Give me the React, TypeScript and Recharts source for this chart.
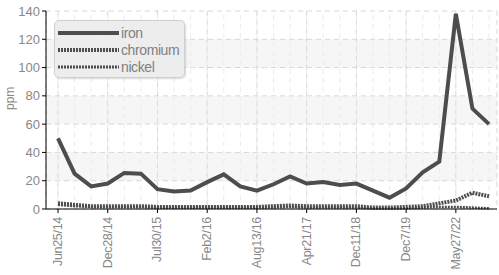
import React from 'react';
import { LineChart, Line, XAxis, YAxis, CartesianGrid, ReferenceLine } from 'recharts';

const dates = [
  'Jun25/14', 'Aug20/14', 'Oct22/14', 'Dec28/14', 'Feb25/15', 'Apr29/15',
  'Jul30/15', 'Sep30/15', 'Dec1/15', 'Feb2/16', 'Apr5/16', 'Jun8/16',
  'Aug13/16', 'Oct15/16', 'Jan17/17', 'Apr21/17', 'Jul10/17', 'Dec5/17',
  'Dec11/18', 'Apr10/19', 'Aug9/19', 'Dec7/19', 'Jun15/20', 'Mar3/21',
  'May27/22', 'Nov8/22', 'Apr14/23',
];
const iron = [50, 25, 16, 18, 25.5, 25, 14, 12.3, 13, 19, 24.5, 16, 13, 17.5, 23, 18, 19, 17, 18, 13, 8, 14.5, 26, 33.5, 138, 71, 60];
const chromium = [4, 3, 2, 2, 2, 2, 1.5, 1.5, 1.5, 1.5, 1.5, 1.5, 1.5, 2, 2.5, 2, 2, 2, 2, 1, 1, 1.5, 2, 4, 6, 11.5, 9];
const nickel = [3, 2, 1.5, 1.5, 1.5, 1.5, 1, 1, 1, 1, 1, 1, 1, 1, 1.5, 1, 1, 1, 1, 0.5, 0.5, 0.5, 1, 1.5, 1.5, 1, 0.5];
const yTicks = [0, 20, 40, 60, 80, 100, 120, 140];

const data = dates.map((d, i) => ({ date: d, iron: iron[i], chromium: chromium[i], nickel: nickel[i] }));

const FONT = '"Liberation Sans", Arial, sans-serif';
const LINE = '#4d4d4d';

const legendItems = [
  { name: 'iron', width: 4, dash: undefined as string | undefined },
  { name: 'chromium', width: 4, dash: '2 1' },
  { name: 'nickel', width: 3, dash: '2 1' },
];

// rotated date label, centred on the tick and reading bottom-to-top
function DateTick({ x, y, payload }: any) {
  return (
    <g transform={`translate(${x},${y})`}>
      <text
        x={-2}
        y={0}
        transform="rotate(-90)"
        textAnchor="end"
        dominantBaseline="central"
        fill="#888"
        fontSize={12.5}
        letterSpacing={-0.3}
        fontFamily={FONT}
      >
        {payload.value}
      </text>
    </g>
  );
}

// legend drawn as an overlay so it doesn't push the plot area around
function LegendBox() {
  return (
    <div
      style={{
        position: 'absolute',
        left: 54,
        top: 20,
        width: 131,
        height: 58,
        boxSizing: 'border-box',
        background: 'rgba(236,236,236,0.92)',
        border: '1px solid #d0d0d0',
        borderRadius: 5,
        boxShadow: '1px 1px 2px rgba(0,0,0,0.15)',
        paddingTop: 3,
        paddingLeft: 3,
        fontFamily: FONT,
        fontSize: 14,
        letterSpacing: -0.4,
        color: '#808080',
      }}
    >
      {legendItems.map((it) => (
        <div key={it.name} style={{ display: 'flex', alignItems: 'center', height: 17 }}>
          <svg width={61} height={8} style={{ display: 'block' }}>
            <line x1={0} y1={4} x2={61} y2={4} stroke={LINE} strokeWidth={it.width} strokeDasharray={it.dash} />
          </svg>
          <span style={{ marginLeft: 2, lineHeight: '14px' }}>{it.name}</span>
        </div>
      ))}
    </div>
  );
}

export default function App() {
  return (
    <div style={{ position: 'relative', width: 499, height: 275 }}>
      <style>{'body{margin:0}'}</style>
      <LineChart width={499} height={275} data={data} margin={{ top: 11, right: 2, bottom: 0, left: 0 }}>
        <CartesianGrid
          stroke="#d8d8d8"
          strokeDasharray="5 4"
          horizontalFill={['#ffffff', '#f6f6f6']}
        />
        {dates.map((d) => (
          <ReferenceLine key={d} x={d} stroke="#ececec" strokeDasharray="5 4" />
        ))}
        <XAxis
          dataKey="date"
          interval={2}
          padding={{ left: 12, right: 8 }}
          height={66}
          stroke="#000"
          tickSize={4}
          tick={<DateTick />}
        />
        <YAxis
          domain={[0, 140]}
          ticks={yTicks}
          width={46}
          stroke="#000"
          tickSize={4}
          tick={{ fill: '#888', fontSize: 13, fontFamily: FONT }}
          label={{ value: 'ppm', angle: -90, position: 'insideLeft', offset: 10, fill: '#888', fontSize: 12, fontFamily: FONT }}
        />
        <Line dataKey="nickel" stroke={LINE} strokeWidth={2.5} strokeDasharray="2 1" dot={false} isAnimationActive={false} />
        <Line dataKey="chromium" stroke={LINE} strokeWidth={4} strokeDasharray="2 1" dot={false} isAnimationActive={false} />
        <Line dataKey="iron" stroke={LINE} strokeWidth={4} dot={false} isAnimationActive={false} />
      </LineChart>
      <LegendBox />
    </div>
  );
}
